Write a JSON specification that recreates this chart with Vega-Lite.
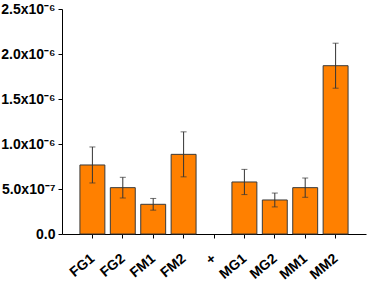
{
  "$schema": "https://vega.github.io/schema/vega-lite/v6.json",
  "autosize": {"type": "none"},
  "width": 304,
  "height": 225,
  "padding": {"left": 62, "top": 9, "right": 1, "bottom": 47},
  "background": "white",
  "config": {"view": {"stroke": null}, "font": "Liberation Sans"},
  "data": {
    "values": [
      {"sample": "FG1", "value": 7.67e-7, "err": 2.0e-7},
      {"sample": "FG2", "value": 5.15e-7, "err": 1.15e-7},
      {"sample": "FM1", "value": 3.3e-7, "err": 6.5e-8},
      {"sample": "FM2", "value": 8.85e-7, "err": 2.5e-7},
      {"sample": "MG1", "value": 5.78e-7, "err": 1.4e-7},
      {"sample": "MG2", "value": 3.78e-7, "err": 7.7e-8},
      {"sample": "MM1", "value": 5.15e-7, "err": 1.07e-7},
      {"sample": "MM2", "value": 1.87e-6, "err": 2.5e-7}
    ]
  },
  "transform": [
    {"calculate": "datum.value + datum.err", "as": "hi"},
    {"calculate": "datum.value - datum.err", "as": "lo"}
  ],
  "encoding": {
    "x": {
      "field": "sample",
      "type": "nominal",
      "sort": null,
      "scale": {"domain": ["FG1", "FG2", "FM1", "FM2", "+", "MG1", "MG2", "MM1", "MM2"], "paddingInner": 0.18, "paddingOuter": 0.59},
      "axis": {
        "title": null,
        "labelAngle": -40,
        "labelFont": "Liberation Sans",
        "labelFontWeight": "bold",
        "labelFontSize": 14,
        "labelColor": "black",
        "domainColor": "black",
        "tickColor": "black",
        "tickSize": 4,
        "labelPadding": 13,
        "labelOffset": -4,
        "labelOverlap": false
      }
    }
  },
  "layer": [
    {
      "mark": {"type": "bar", "color": "#FF8000", "stroke": "#3a3a3a", "strokeWidth": 1},
      "encoding": {
        "y": {
          "field": "value",
          "type": "quantitative",
          "scale": {"domain": [0, 2.5e-6], "nice": false},
          "axis": {
            "title": null,
            "grid": false,
            "values": [0, 5e-7, 1e-6, 1.5e-6, 2e-6, 2.5e-6],
            "labelExpr": "datum.value < 1e-9 ? '0.0' : datum.value < 6e-7 ? '5.0x10⁻⁷' : datum.value < 1.1e-6 ? '1.0x10⁻⁶' : datum.value < 1.6e-6 ? '1.5x10⁻⁶' : datum.value < 2.1e-6 ? '2.0x10⁻⁶' : '2.5x10⁻⁶'",
            "labelFont": "Liberation Sans",
            "labelFontWeight": "bold",
            "labelFontSize": 14,
            "labelColor": "black",
            "domainColor": "black",
            "tickColor": "black",
            "tickSize": 4,
            "labelPadding": 3
          }
        }
      }
    },
    {
      "mark": {"type": "rule", "color": "#333333", "strokeWidth": 1},
      "encoding": {
        "y": {"field": "lo", "type": "quantitative"},
        "y2": {"field": "hi"}
      }
    },
    {
      "mark": {"type": "tick", "color": "#333333", "thickness": 1, "size": 6},
      "encoding": {"y": {"field": "hi", "type": "quantitative"}}
    },
    {
      "mark": {"type": "tick", "color": "#333333", "thickness": 1, "size": 6},
      "encoding": {"y": {"field": "lo", "type": "quantitative"}}
    }
  ]
}
